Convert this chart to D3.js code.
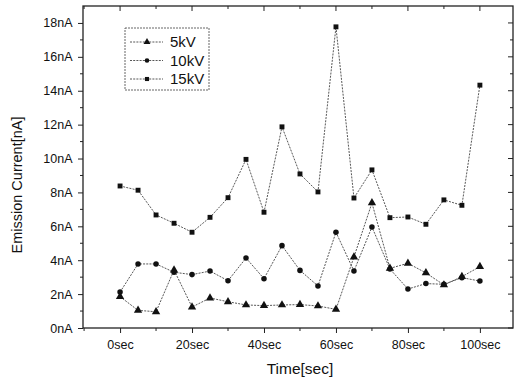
<!DOCTYPE html>
<html><head><meta charset="utf-8">
<script src="https://cdn.jsdelivr.net/npm/d3@7"></script>
<style>body{margin:0;background:#fff}svg{display:block}</style>
</head><body>
<script>
const times = [0,5,10,15,20,25,30,35,40,45,50,55,60,65,70,75,80,85,90,95,100];
const kv5  = [1.85,1.04,0.96,3.42,1.24,1.77,1.55,1.36,1.32,1.36,1.38,1.30,1.10,4.19,7.38,3.52,3.82,3.25,2.54,3.03,3.62];
const kv10 = [2.12,3.78,3.78,3.29,3.15,3.36,2.79,4.13,2.91,4.86,3.40,2.48,5.65,3.36,5.96,3.48,2.30,2.62,2.58,2.97,2.77];
const kv15 = [8.38,8.13,6.67,6.18,5.65,6.53,7.69,9.95,6.83,11.87,9.09,8.03,17.77,7.67,9.33,6.51,6.55,6.12,7.56,7.24,14.33];
const seriesNames = ["5kV","10kV","15kV"];
const xTicks = [0,20,40,60,80,100];
const yTicks = [0,2,4,6,8,10,12,14,16,18];

const W=514,H=380;
const svg=d3.select("body").append("svg").attr("width",W).attr("height",H);
const x=d3.scaleLinear().domain([-10.3,109.2]).range([83,513]);
const y=d3.scaleLinear().domain([0,19]).range([328,6]);
const font="Liberation Sans, Arial, sans-serif";

// frame
svg.append("rect").attr("x",83).attr("y",6).attr("width",430).attr("height",322)
  .attr("fill","none").attr("stroke","#222").attr("stroke-width",1.3);

// bottom axis
const xAx=d3.axisBottom(x).tickValues(xTicks).tickSize(5).tickFormat(d=>d+"sec");
const gx=svg.append("g").attr("transform","translate(0,328)").call(xAx);
gx.select(".domain").remove();
gx.selectAll("text").attr("font-family",font).attr("font-size",12.5).attr("fill","#111").attr("dy","1.0em");
gx.selectAll("line").attr("stroke","#222");
const xMinor=d3.range(-10,110,10).filter(v=>v%20!==0);
svg.append("g").selectAll("line").data(xMinor).join("line")
  .attr("x1",d=>x(d)).attr("x2",d=>x(d)).attr("y1",328).attr("y2",331).attr("stroke","#222");
// top ticks inward
svg.append("g").selectAll("line").data(xTicks).join("line")
  .attr("x1",d=>x(d)).attr("x2",d=>x(d)).attr("y1",6).attr("y2",11).attr("stroke","#222");
svg.append("g").selectAll("line").data(xMinor).join("line")
  .attr("x1",d=>x(d)).attr("x2",d=>x(d)).attr("y1",6).attr("y2",9).attr("stroke","#222");

// left axis
const yAx=d3.axisLeft(y).tickValues(yTicks).tickSize(5).tickFormat(d=>d+"nA");
const gy=svg.append("g").attr("transform","translate(83,0)").call(yAx);
gy.select(".domain").remove();
gy.selectAll("text").attr("font-family",font).attr("font-size",12.5).attr("fill","#111").attr("dx","-0.2em");
gy.selectAll("line").attr("stroke","#222");
const yMinor=d3.range(1,19,2);
svg.append("g").selectAll("line").data(yMinor).join("line")
  .attr("x1",80).attr("x2",83).attr("y1",d=>y(d)).attr("y2",d=>y(d)).attr("stroke","#222");
// right ticks inward
svg.append("g").selectAll("line").data(yTicks).join("line")
  .attr("x1",508).attr("x2",513).attr("y1",d=>y(d)).attr("y2",d=>y(d)).attr("stroke","#222");
svg.append("g").selectAll("line").data(yMinor).join("line")
  .attr("x1",510).attr("x2",513).attr("y1",d=>y(d)).attr("y2",d=>y(d)).attr("stroke","#222");

// titles
svg.append("text").attr("x",300).attr("y",374).attr("text-anchor","middle")
  .attr("font-family",font).attr("font-size",15.5).attr("fill","#111").text("Time[sec]");
svg.append("text").attr("transform","translate(22,185) rotate(-90)").attr("text-anchor","middle")
  .attr("font-family",font).attr("font-size",14.5).attr("fill","#111").text("Emission Current[nA]");

// series
const data=[kv5,kv10,kv15];
const line=d3.line().x((d,i)=>x(times[i])).y(d=>y(d));
const symbols=[d3.symbolTriangle,d3.symbolCircle,d3.symbolSquare];
const sizes=[30,24,24];
data.forEach((vals,k)=>{
  svg.append("path").datum(vals).attr("d",line).attr("fill","none")
    .attr("stroke","#444").attr("stroke-width",0.9).attr("stroke-dasharray","2,1.2");
  svg.append("g").selectAll("path").data(vals).join("path")
    .attr("transform",(d,i)=>`translate(${x(times[i])},${y(d)})`)
    .attr("d",d3.symbol().type(symbols[k]).size(sizes[k])).attr("fill","#111");
});

// legend
const lg=svg.append("g");
lg.append("rect").attr("x",125).attr("y",28).attr("width",84).attr("height",62)
  .attr("fill","#fff").attr("stroke","#555").attr("stroke-width",0.9).attr("stroke-dasharray","2,1");
seriesNames.forEach((n,k)=>{
  const ly=42+k*18.5;
  lg.append("line").attr("x1",130).attr("x2",163).attr("y1",ly).attr("y2",ly)
    .attr("stroke","#444").attr("stroke-width",0.9).attr("stroke-dasharray","2,1.2");
  lg.append("path").attr("transform",`translate(147,${ly})`)
    .attr("d",d3.symbol().type(symbols[k]).size(sizes[k]*0.7)).attr("fill","#111");
  lg.append("text").attr("x",170).attr("y",ly+5).attr("font-family",font)
    .attr("font-size",15).attr("fill","#111").text(n);
});
</script>
</body></html>
